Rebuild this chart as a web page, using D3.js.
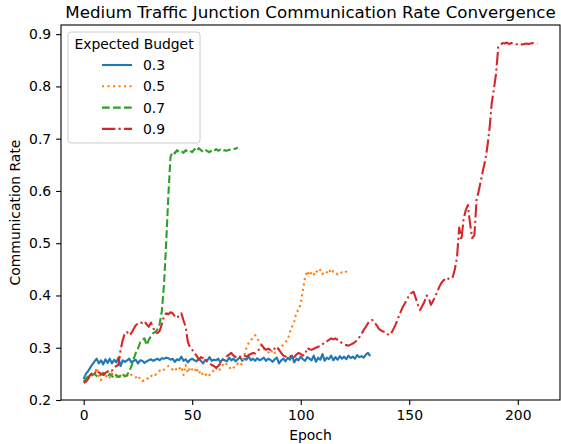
<!DOCTYPE html>
<html>
<head>
<meta charset="utf-8">
<script src="https://cdn.jsdelivr.net/npm/d3@7"></script>
<style>
	body { margin: 0; background: #fff; }
	text { font-family: "DejaVu Sans", sans-serif; fill: #000; }
</style>
</head>
<body>
<div id="chart"></div>
<script>
var budgets = ["0.3", "0.5", "0.7", "0.9"];
var colors = ["#1f77b4", "#ff7f0e", "#2ca02c", "#d62728"];
var xTicks = [0, 50, 100, 150, 200];
var yTicks = [0.2, 0.3, 0.4, 0.5, 0.6, 0.7, 0.8, 0.9];

// one value per epoch, starting at epoch 0
var rate03 = [
	0.240, 0.250, 0.255, 0.262, 0.268, 0.274, 0.279, 0.270, 0.276, 0.268, 0.278, 0.271, 0.279, 0.270, 0.277, 0.272, 0.281, 0.265, 0.276, 0.273,
	0.276, 0.279, 0.272, 0.275, 0.277, 0.270, 0.276, 0.275, 0.271, 0.274, 0.276, 0.278, 0.275, 0.277, 0.279, 0.276, 0.280, 0.279, 0.281, 0.280,
	0.277, 0.279, 0.273, 0.278, 0.276, 0.283, 0.275, 0.278, 0.272, 0.277, 0.279, 0.276, 0.274, 0.279, 0.275, 0.270, 0.277, 0.276, 0.282, 0.275,
	0.277, 0.276, 0.279, 0.272, 0.278, 0.276, 0.274, 0.281, 0.276, 0.279, 0.274, 0.278, 0.282, 0.275, 0.279, 0.277, 0.283, 0.276, 0.279, 0.275,
	0.280, 0.276, 0.278, 0.281, 0.275, 0.279, 0.277, 0.273, 0.278, 0.281, 0.270, 0.276, 0.279, 0.274, 0.281, 0.277, 0.285, 0.272, 0.279, 0.276,
	0.283, 0.278, 0.275, 0.282, 0.279, 0.276, 0.285, 0.273, 0.281, 0.277, 0.288, 0.275, 0.281, 0.278, 0.285, 0.276, 0.282, 0.277, 0.284, 0.279,
	0.283, 0.278, 0.285, 0.280, 0.283, 0.279, 0.286, 0.282, 0.284, 0.281, 0.287, 0.290, 0.284
];
var rate05 = [
	0.235, 0.238, 0.242, 0.245, 0.248, 0.250, 0.262, 0.245, 0.238, 0.250, 0.244, 0.248, 0.243, 0.251, 0.246, 0.244, 0.249, 0.242, 0.247, 0.250,
	0.246, 0.251, 0.248, 0.245, 0.243, 0.247, 0.240, 0.236, 0.238, 0.242, 0.240, 0.245, 0.250, 0.248, 0.252, 0.256, 0.260, 0.258, 0.262, 0.265,
	0.263, 0.258, 0.262, 0.256, 0.260, 0.264, 0.248, 0.267, 0.252, 0.263, 0.258, 0.254, 0.262, 0.250, 0.256, 0.247, 0.250, 0.244, 0.248, 0.252,
	0.258, 0.262, 0.255, 0.260, 0.266, 0.272, 0.268, 0.264, 0.258, 0.262, 0.263, 0.270, 0.266, 0.270, 0.285, 0.300, 0.309, 0.315, 0.318, 0.324,
	0.318, 0.310, 0.305, 0.298, 0.295, 0.292, 0.288, 0.296, 0.290, 0.292, 0.298, 0.302, 0.306, 0.311, 0.315, 0.330, 0.340, 0.350, 0.368, 0.372,
	0.385, 0.410, 0.435, 0.447, 0.438, 0.445, 0.440, 0.448, 0.443, 0.449, 0.441, 0.446, 0.444, 0.450, 0.442, 0.447, 0.445, 0.440, 0.443, 0.444,
	0.442, 0.446, 0.452
];
var rate07 = [
	0.235, 0.240, 0.245, 0.243, 0.248, 0.250, 0.246, 0.244, 0.249, 0.252, 0.247, 0.245, 0.250, 0.246, 0.242, 0.248, 0.244, 0.247, 0.250, 0.245,
	0.248, 0.255, 0.265, 0.278, 0.290, 0.298, 0.310, 0.315, 0.318, 0.305, 0.315, 0.322, 0.328, 0.330, 0.335, 0.345, 0.370, 0.420, 0.500, 0.590,
	0.665, 0.675, 0.672, 0.678, 0.674, 0.676, 0.673, 0.678, 0.675, 0.677, 0.674, 0.680, 0.676, 0.682, 0.678, 0.675, 0.679, 0.676, 0.674, 0.678,
	0.676, 0.680, 0.677, 0.679, 0.676, 0.678, 0.677, 0.679, 0.678, 0.680, 0.681, 0.683
];
var rate09 = [
	0.233, 0.235, 0.240, 0.248, 0.252, 0.250, 0.257, 0.253, 0.250, 0.248,
	0.252, 0.254, 0.258, 0.256, 0.262, 0.265, 0.267, 0.296, 0.315, 0.328,
	0.330, 0.324, 0.328, 0.336, 0.343, 0.346, 0.349, 0.347, 0.350, 0.345,
	0.340, 0.348, 0.338, 0.330, 0.328, 0.332, 0.345, 0.360, 0.366, 0.364,
	0.368, 0.366, 0.360, 0.357, 0.362, 0.366, 0.352, 0.340, 0.311, 0.300,
	0.296, 0.290, 0.285, 0.277, 0.282, 0.280, 0.276, 0.273, 0.270, 0.267,
	0.265, 0.262, 0.265, 0.270, 0.276, 0.280, 0.284, 0.287, 0.290, 0.285,
	0.282, 0.280, 0.283, 0.282, 0.285, 0.283, 0.286, 0.288, 0.290, 0.289,
	0.292, 0.298, 0.305, 0.300, 0.296, 0.298, 0.296, 0.300, 0.298, 0.302,
	0.296, 0.290, 0.285, 0.283, 0.285, 0.283, 0.286, 0.282, 0.287, 0.290,
	0.288, 0.285, 0.287, 0.300, 0.297, 0.296, 0.298, 0.300, 0.302, 0.303,
	0.306, 0.311, 0.312, 0.315, 0.318, 0.316, 0.318, 0.315, 0.312, 0.309,
	0.306, 0.305, 0.304, 0.306, 0.308, 0.311, 0.315, 0.320, 0.326, 0.334,
	0.340, 0.347, 0.352, 0.353, 0.348, 0.343, 0.336, 0.333, 0.331, 0.330,
	0.326, 0.324, 0.330, 0.338, 0.347, 0.358, 0.368, 0.378, 0.385, 0.393,
	0.400, 0.405, 0.407, 0.395, 0.382, 0.372, 0.380, 0.388, 0.400, 0.395,
	0.382, 0.390, 0.398, 0.408, 0.418, 0.425, 0.430, 0.428, 0.432, 0.436,
	0.435, 0.450, 0.473, 0.530, 0.506, 0.545, 0.563, 0.573, 0.538, 0.510,
	0.515, 0.582, 0.600, 0.620, 0.640, 0.659, 0.685, 0.720, 0.768, 0.795,
	0.825, 0.875, 0.880, 0.883, 0.882, 0.884, 0.881, 0.883, 0.882, 0.880,
	0.881, 0.882, 0.880, 0.881, 0.882, 0.881, 0.882, 0.883, 0.882, 0.882
];
var series = [rate03, rate05, rate07, rate09];
var dashes = ["none", "2.1,3.4", "7.7,3.3", "13.3,3.3,2.1,3.3"];

var width = 561, height = 444;
var margin = {left: 61, right: 1, top: 25, bottom: 44};

var svg = d3.select("#chart").append("svg")
	.attr("width", width)
	.attr("height", height);

var x = d3.scaleLinear()
	.domain([-10.45, 219.45])
	.range([margin.left, width - margin.right]);
var y = d3.scaleLinear()
	.domain([0.2, 0.9175])
	.range([height - margin.bottom, margin.top]);

var clip = svg.append("clipPath").attr("id", "plotclip")
	.append("rect")
	.attr("x", margin.left).attr("y", margin.top)
	.attr("width", width - margin.left - margin.right)
	.attr("height", height - margin.top - margin.bottom);

var line = d3.line()
	.x(function(d, i) { return x(i); })
	.y(function(d) { return y(d); });

var lines = svg.append("g").attr("clip-path", "url(#plotclip)");
series.forEach(function(s, k) {
	lines.append("path")
		.datum(s)
		.attr("d", line)
		.attr("fill", "none")
		.attr("stroke", colors[k])
		.attr("stroke-width", 2.1)
		.attr("stroke-dasharray", dashes[k])
		.attr("stroke-linejoin", "round");
});

// axes
var xAxis = svg.append("g")
	.attr("transform", "translate(0," + (height - margin.bottom) + ")")
	.call(d3.axisBottom(x).tickValues(xTicks).tickSize(4.9).tickPadding(4.9).tickFormat(d3.format("d")));
var yAxis = svg.append("g")
	.attr("transform", "translate(" + margin.left + ",0)")
	.call(d3.axisLeft(y).tickValues(yTicks).tickSize(4.9).tickPadding(4.9).tickFormat(d3.format(".1f")));

[xAxis, yAxis].forEach(function(a) {
	a.select(".domain").remove();
	a.selectAll("line").attr("stroke", "#000").attr("stroke-width", 1.1);
	a.selectAll("text")
		.style("font-family", "DejaVu Sans")
		.style("font-size", "13.9px")
		.attr("fill", "#000");
});

// frame
svg.append("rect")
	.attr("x", margin.left)
	.attr("y", margin.top)
	.attr("width", width - margin.left - margin.right)
	.attr("height", height - margin.top - margin.bottom)
	.attr("fill", "none")
	.attr("stroke", "#000")
	.attr("stroke-width", 1.1);

svg.append("text")
	.attr("x", (margin.left + width - margin.right) / 2)
	.attr("y", 18)
	.attr("text-anchor", "middle")
	.style("font-size", "16.7px")
	.text("Medium Traffic Junction Communication Rate Convergence");

svg.append("text")
	.attr("x", (margin.left + width - margin.right) / 2)
	.attr("y", 440)
	.attr("text-anchor", "middle")
	.style("font-size", "13.9px")
	.text("Epoch");

svg.append("text")
	.attr("transform", "translate(20," + ((margin.top + height - margin.bottom) / 2) + ") rotate(-90)")
	.attr("text-anchor", "middle")
	.style("font-size", "13.9px")
	.text("Communication Rate");

// legend
var lg = svg.append("g");
lg.append("rect")
	.attr("x", 68).attr("y", 32)
	.attr("width", 132).attr("height", 111)
	.attr("rx", 3)
	.attr("fill", "#fff")
	.attr("fill-opacity", 0.8)
	.attr("stroke", "#ccc")
	.attr("stroke-width", 1);
lg.append("text")
	.attr("x", 134).attr("y", 49)
	.attr("text-anchor", "middle")
	.style("font-size", "13.9px")
	.text("Expected Budget");
budgets.forEach(function(b, k) {
	var ly = 65 + k * 21.3;
	lg.append("line")
		.attr("x1", 102).attr("x2", 132)
		.attr("y1", ly).attr("y2", ly)
		.attr("stroke", colors[k])
		.attr("stroke-width", 2.1)
		.attr("stroke-dasharray", dashes[k]);
	lg.append("text")
		.attr("x", 143).attr("y", ly + 5)
		.style("font-size", "13.9px")
		.text(b);
});
</script>
</body>
</html>
